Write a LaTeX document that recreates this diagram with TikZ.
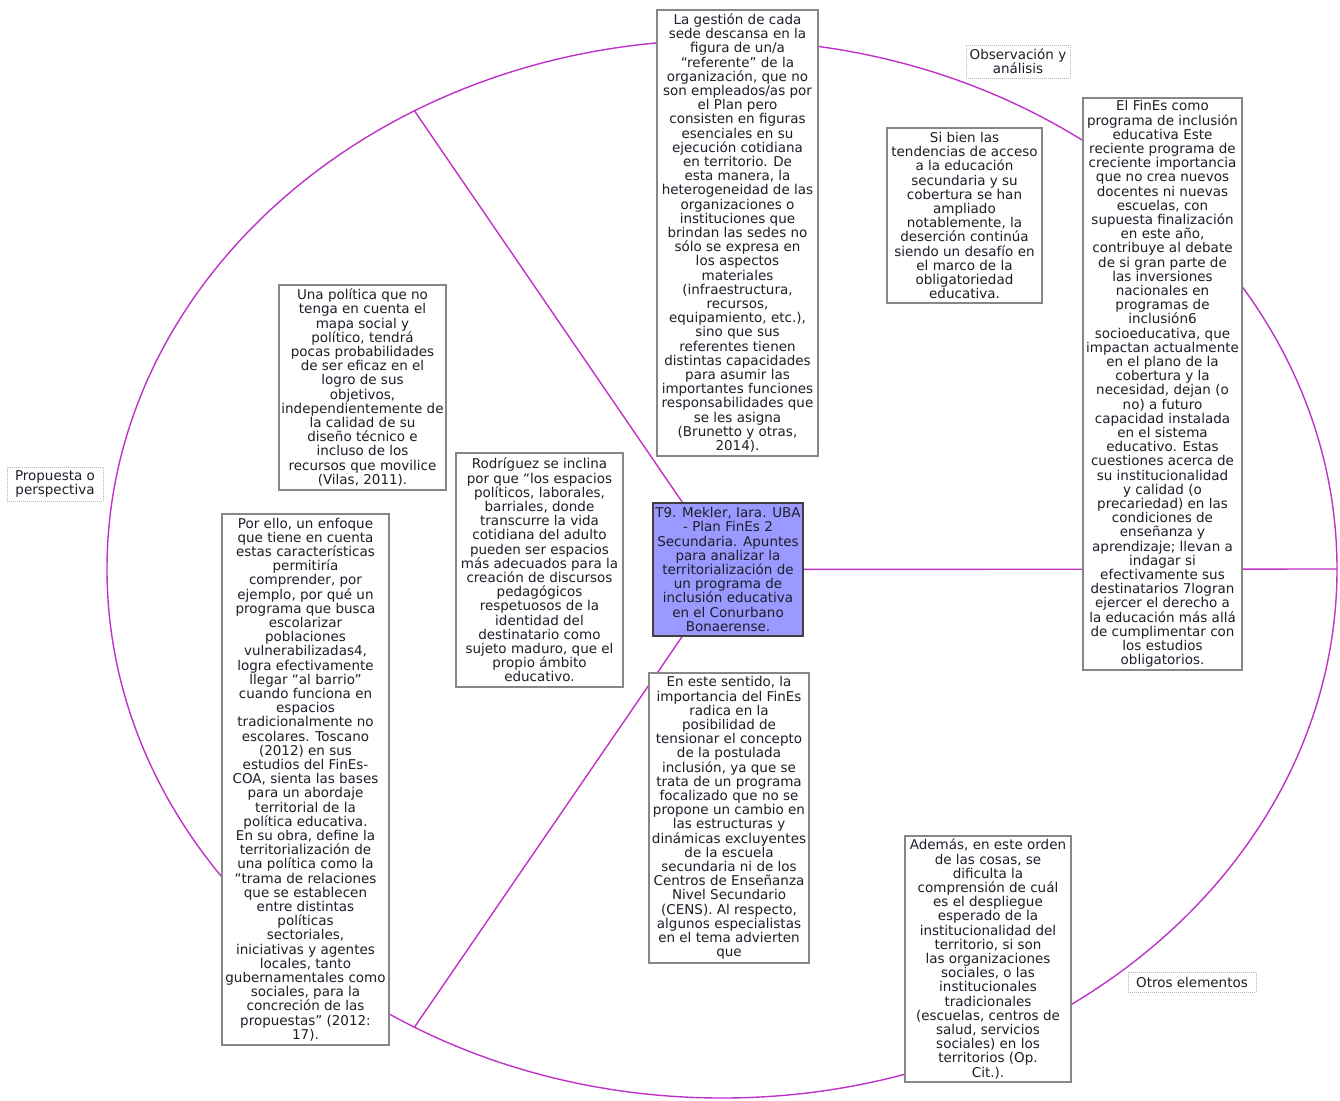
\documentclass[tikz,border=0pt]{standalone}
\usepackage{fontspec}
\setmainfont{DejaVu Sans}
\usetikzlibrary{calc}
\definecolor{arc}{RGB}{190,50,200}
\definecolor{boxline}{RGB}{135,135,135}
\definecolor{txt}{RGB}{30,30,40}
\definecolor{hub}{RGB}{153,153,255}
\pgfdeclarelayer{bg}
\pgfsetlayers{bg,main}
\begin{document}
\begin{tikzpicture}[x=1pt,y=-1pt,
  every node/.style={font=\fontsize{13.5pt}{14.2pt}\selectfont, text=txt, align=center, inner sep=0pt},
  textbox/.style={draw=boxline, line width=1.1pt, fill=white},
  labelbox/.style={draw=boxline!60, line width=0.8pt, dash pattern=on 1pt off 1pt, fill=white},
  hubbox/.style={draw=black!75, line width=1.1pt, fill=hub},
  link/.style={draw=arc, line width=1.4pt}]
\useasboundingbox (0,0) rectangle (1340,1100);
\coordinate (E) at (722,569);

\node[textbox, minimum width=161pt, minimum height=446pt] (a) at (737.5,233) {La gestión de cada\\sede descansa en la\\figura de un/a\\“referente” de la\\organización, que no\\son empleados/as por\\el Plan pero\\consisten en figuras\\esenciales en su\\ejecución cotidiana\\en territorio. De\\esta manera, la\\heterogeneidad de las\\organizaciones o\\instituciones que\\brindan las sedes no\\sólo se expresa en\\los aspectos\\materiales\\(infraestructura,\\recursos,\\equipamiento, etc.),\\sino que sus\\referentes tienen\\distintas capacidades\\para asumir las\\importantes funciones\\responsabilidades que\\se les asigna\\(Brunetto y otras,\\2014).};

\node[labelbox, minimum width=104pt, minimum height=33pt] (obs) at (1018,61.5) {Observación y\\análisis};

\node[textbox, minimum width=155pt, minimum height=175pt] (c) at (964.5,215.5) {Si bien las\\tendencias de acceso\\a la educación\\secundaria y su\\cobertura se han\\ampliado\\notablemente, la\\deserción continúa\\siendo un desafío en\\el marco de la\\obligatoriedad\\educativa.};

\node[textbox, minimum width=159pt, minimum height=572pt] (d) at (1162.5,384) {El FinEs como\\programa de inclusión\\educativa Este\\reciente programa de\\creciente importancia\\que no crea nuevos\\docentes ni nuevas\\escuelas, con\\supuesta finalización\\en este año,\\contribuye al debate\\de si gran parte de\\las inversiones\\nacionales en\\programas de\\inclusión6\\socioeducativa, que\\impactan actualmente\\en el plano de la\\cobertura y la\\necesidad, dejan (o\\no) a futuro\\capacidad instalada\\en el sistema\\educativo. Estas\\cuestiones acerca de\\su institucionalidad\\y calidad (o\\precariedad) en las\\condiciones de\\enseñanza y\\aprendizaje; llevan a\\indagar si\\efectivamente sus\\destinatarios 7logran\\ejercer el derecho a\\la educación más allá\\de cumplimentar con\\los estudios\\obligatorios.};

\node[textbox, minimum width=167pt, minimum height=205pt] (e) at (362.5,387.5) {Una política que no\\tenga en cuenta el\\mapa social y\\político, tendrá\\pocas probabilidades\\de ser eficaz en el\\logro de sus\\objetivos,\\independientemente de\\la calidad de su\\diseño técnico e\\incluso de los\\recursos que movilice\\(Vilas, 2011).};

\node[labelbox, minimum width=96pt, minimum height=34pt] (prop) at (55,484) {Propuesta o\\perspectiva};

\node[textbox, minimum width=167pt, minimum height=234pt] (g) at (539.5,570) {Rodríguez se inclina\\por que “los espacios\\políticos, laborales,\\barriales, donde\\transcurre la vida\\cotidiana del adulto\\pueden ser espacios\\más adecuados para la\\creación de discursos\\pedagógicos\\respetuosos de la\\identidad del\\destinatario como\\sujeto maduro, que el\\propio ámbito\\educativo.};

\node[hubbox, minimum width=150pt, minimum height=133pt] (hub) at (728,569.5) {T9. Mekler, Iara. UBA\\- Plan FinEs 2\\Secundaria. Apuntes\\para analizar la\\territorialización de\\un programa de\\inclusión educativa\\en el Conurbano\\Bonaerense.};

\node[textbox, minimum width=167pt, minimum height=531pt] (i) at (305.5,779.5) {Por ello, un enfoque\\que tiene en cuenta\\estas características\\permitiría\\comprender, por\\ejemplo, por qué un\\programa que busca\\escolarizar\\poblaciones\\vulnerabilizadas4,\\logra efectivamente\\llegar “al barrio”\\cuando funciona en\\espacios\\tradicionalmente no\\escolares. Toscano\\(2012) en sus\\estudios del FinEs-\\COA, sienta las bases\\para un abordaje\\territorial de la\\política educativa.\\En su obra, define la\\territorialización de\\una política como la\\“trama de relaciones\\que se establecen\\entre distintas\\políticas\\sectoriales,\\iniciativas y agentes\\locales, tanto\\gubernamentales como\\sociales, para la\\concreción de las\\propuestas” (2012:\\17).};

\node[textbox, minimum width=160pt, minimum height=290pt] (j) at (729,818) {En este sentido, la\\importancia del FinEs\\radica en la\\posibilidad de\\tensionar el concepto\\de la postulada\\inclusión, ya que se\\trata de un programa\\focalizado que no se\\propone un cambio en\\las estructuras y\\dinámicas excluyentes\\de la escuela\\secundaria ni de los\\Centros de Enseñanza\\Nivel Secundario\\(CENS). Al respecto,\\algunos especialistas\\en el tema advierten\\que};

\node[textbox, minimum width=166pt, minimum height=246pt] (k) at (988,959) {Además, en este orden\\de las cosas, se\\dificulta la\\comprensión de cuál\\es el despliegue\\esperado de la\\institucionalidad del\\territorio, si son\\las organizaciones\\sociales, o las\\institucionales\\tradicionales\\(escuelas, centros de\\salud, servicios\\sociales) en los\\territorios (Op.\\Cit.).};

\node[labelbox, minimum width=128pt, minimum height=20pt] (otros) at (1192,982) {Otros elementos};

\coordinate (p0) at ($(E)+(0:615pt and 529pt)$);
\coordinate (p120) at ($(E)+(120:615pt and 529pt)$);
\coordinate (p240) at ($(E)+(240:615pt and 529pt)$);

\begin{pgfonlayer}{bg}
\draw[link] (E) ellipse [x radius=615pt, y radius=529pt];
\draw[link] (hub) -- (p0);
\draw[link] (hub) -- (p120);
\draw[link] (hub) -- (p240);
\end{pgfonlayer}
\end{tikzpicture}
\end{document}
